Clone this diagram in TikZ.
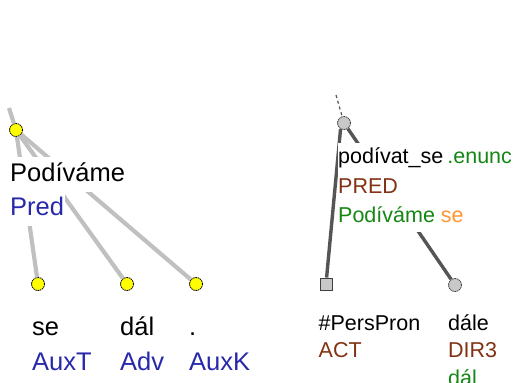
\documentclass[tikz,border=0pt]{standalone}
\usepackage{fontspec}
\setmainfont{Liberation Sans}
\definecolor{afun}{RGB}{40,40,170}
\definecolor{funct}{RGB}{130,50,20}
\definecolor{tgreen}{RGB}{20,135,20}
\definecolor{torange}{RGB}{255,150,50}
\definecolor{aedge}{RGB}{192,192,192}
\definecolor{tedge}{RGB}{85,85,85}
\definecolor{ynode}{RGB}{255,255,0}
\definecolor{gnode}{RGB}{200,200,200}
\begin{document}
\begin{tikzpicture}[x=1pt,y=-1pt,
  anode/.style={circle,fill=ynode,draw=black,line width=0.8pt,dash pattern=on 1.6pt off 0.7pt,minimum size=13pt,inner sep=0pt},
  tnode/.style={anode,fill=gnode,draw=black!75},
  tsq/.style={rectangle,fill=gnode,draw=black!75,line width=0.8pt,minimum size=12pt,inner sep=0pt},
  aedgestyle/.style={draw=aedge,line width=4.2pt},
  tedgestyle/.style={draw=tedge,line width=3.4pt},
  ttopedge/.style={draw=tedge,line width=1.2pt,dash pattern=on 3pt off 3pt},
  alab/.style={anchor=base west,font=\fontsize{25.5}{30}\selectfont,fill=white,inner xsep=0.5pt,inner ysep=1pt,text height=23pt,text depth=10pt},
  tlab/.style={anchor=base west,font=\fontsize{21.5}{27}\selectfont,fill=white,inner xsep=0.5pt,inner ysep=1pt,text height=19pt,text depth=9pt}]
\useasboundingbox (0,0) rectangle (515,383);
\clip (0,0) rectangle (515,383);
% analytical tree nodes
\node[anode] (aroot) at (16,130) {};
\node[anode] (ase) at (38,284) {};
\node[anode] (adal) at (127,284) {};
\node[anode] (adot) at (196,284) {};
\coordinate (atop) at (9,108);
% tectogrammatical tree nodes
\node[tnode] (troot) at (344,123) {};
\node[tsq] (tact) at (326,284) {};
\node[tnode] (tdir) at (455,285) {};
\coordinate (ttop) at (336,95);
% edges
\draw[aedgestyle] (atop) -- (aroot);
\draw[aedgestyle] (aroot) -- (ase);
\draw[aedgestyle] (aroot) -- (adal);
\draw[aedgestyle] (aroot) -- (adot);
\draw[ttopedge] (ttop) -- (troot);
\draw[tedgestyle] (troot.-120) -- (tact);
\draw[tedgestyle] (troot) -- (tdir);
% labels left
\node[alab] (lroot1) at (9.5,181) {Podíváme};
\node[alab,text=afun] (lroot2) at (9.5,215) {Pred};
\node[alab] (lse1) at (31.5,335) {se};
\node[alab,text=afun] (lse2) at (31.5,370) {AuxT};
\node[alab] (ldal1) at (119.5,335) {dál};
\node[alab,text=afun] (ldal2) at (119.5,370) {Adv};
\node[alab] (ldot1) at (188.5,335) {.};
\node[alab,text=afun] (ldot2) at (188.5,370) {AuxK};
% labels right
\node[tlab] (troot1) at (337.5,163) {podívat\_se\hspace{4pt}\textcolor{tgreen}{.enunc}};
\node[tlab,text=funct] (troot2) at (337.5,193) {PRED};
\node[tlab,text height=22pt] (troot3) at (337.5,222) {\textcolor{tgreen}{Podíváme} \textcolor{torange}{se}};
\node[tlab] (tact1) at (318,330) {\#PersPron};
\node[tlab,text=funct] (tact2) at (318,357) {ACT};
\node[tlab] (tdir1) at (447.5,330) {dále};
\node[tlab,text=funct] (tdir2) at (447.5,357) {DIR3};
\node[tlab,text=tgreen] (tdir3) at (447.5,385) {dál};
\end{tikzpicture}
\end{document}
